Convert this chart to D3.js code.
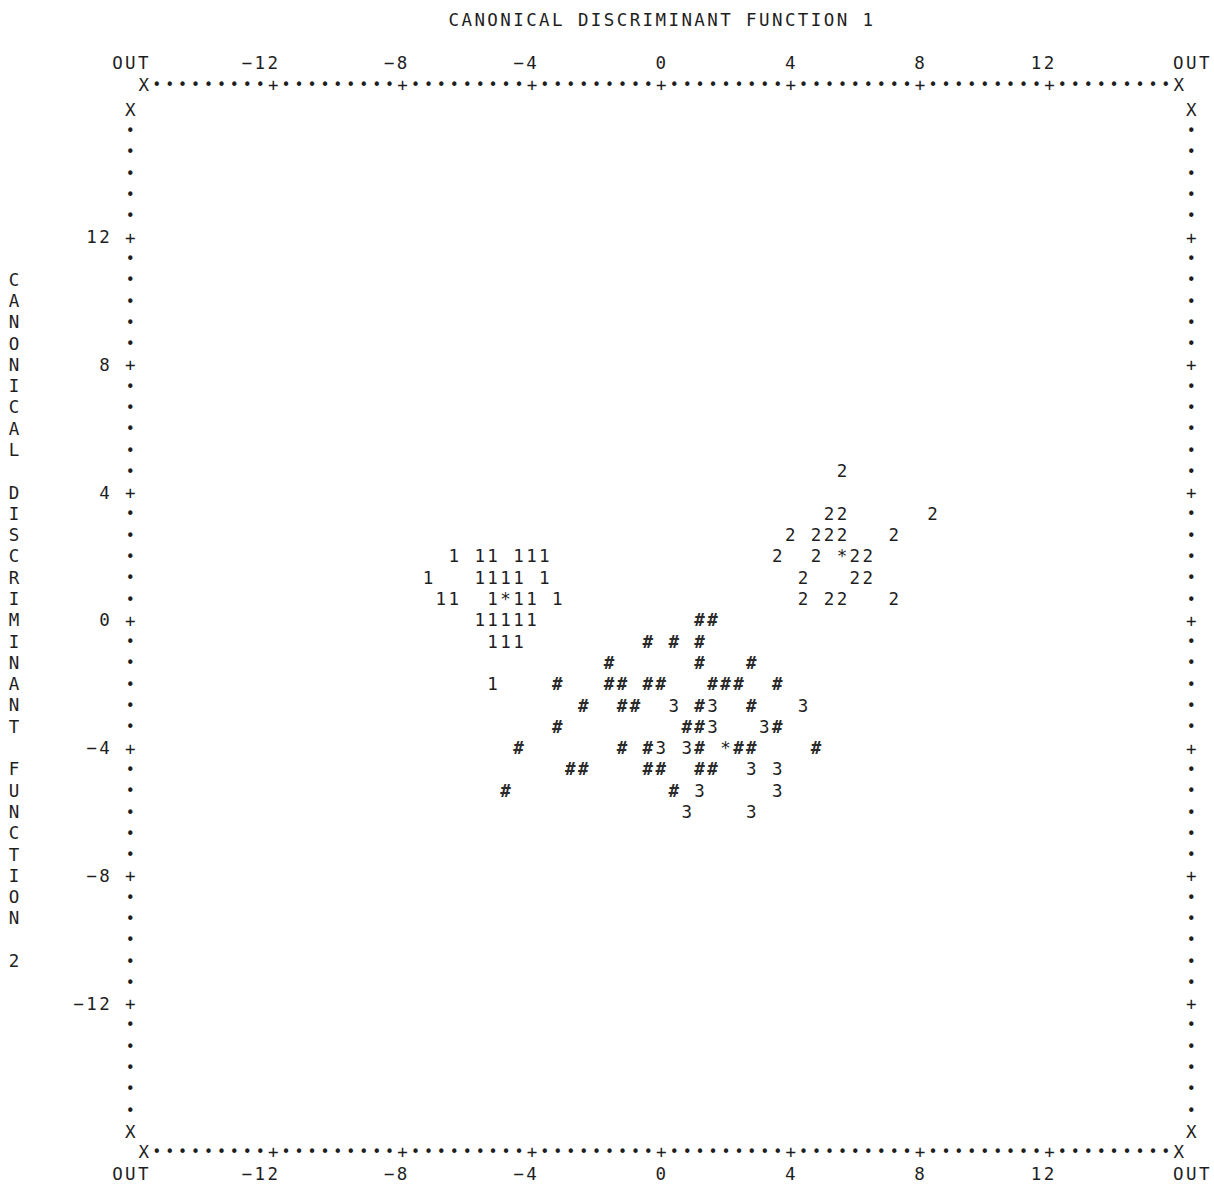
<!DOCTYPE html>
<html>
<head>
<meta charset="utf-8">
<script src="https://cdn.jsdelivr.net/npm/d3@7/dist/d3.min.js"></script>
<style>
  body { margin: 0; background: #fff; }
  text { font-family: "DejaVu Sans Mono", monospace; font-size: 17.5px; fill: #1e1e1e; }
  .hash { font-weight: bold; fill: #2a2a2a; }
  .dot { font-size: 15px; }
</style>
</head>
<body>
<svg id="canvas"></svg>
<script>
const WIDTH = 1214;
const HEIGHT = 1189;

// scores on (function 1, function 2)
const group1 = [
  [-6.4, 2.0], [-5.6, 2.0], [-5.2, 2.0], [-4.4, 2.0], [-4.0, 2.0], [-3.6, 2.0],
  [-7.2, 1.33], [-5.6, 1.33], [-5.2, 1.33], [-4.8, 1.33], [-4.4, 1.33], [-3.6, 1.33],
  [-6.8, 0.67], [-6.4, 0.67], [-5.2, 0.67], [-4.4, 0.67], [-4.0, 0.67], [-3.2, 0.67],
  [-5.6, 0], [-5.2, 0], [-4.8, 0], [-4.4, 0], [-4.0, 0],
  [-5.2, -0.67], [-4.8, -0.67], [-4.4, -0.67],
  [-5.2, -2.0],
];

const group2 = [
  [5.6, 4.67],
  [5.2, 3.33], [5.6, 3.33], [8.4, 3.33],
  [4.0, 2.67], [4.8, 2.67], [5.2, 2.67], [5.6, 2.67], [7.2, 2.67],
  [3.6, 2.0], [4.8, 2.0], [6.0, 2.0], [6.4, 2.0],
  [4.4, 1.33], [6.0, 1.33], [6.4, 1.33],
  [4.4, 0.67], [5.2, 0.67], [5.6, 0.67], [7.2, 0.67],
];

const group3 = [
  [0.4, -2.67], [1.6, -2.67], [4.4, -2.67],
  [1.6, -3.33], [3.2, -3.33],
  [0, -4.0], [0.8, -4.0],
  [2.8, -4.67], [3.6, -4.67],
  [1.2, -5.33], [3.6, -5.33],
  [0.8, -6.0], [2.8, -6.0],
];

const groupHash = [
  [1.2, 0], [1.6, 0],
  [-0.4, -0.67], [0.4, -0.67], [1.2, -0.67],
  [-1.6, -1.33], [1.2, -1.33], [2.8, -1.33],
  [-3.2, -2.0], [-1.6, -2.0], [-1.2, -2.0], [-0.4, -2.0], [0, -2.0], [1.6, -2.0], [2.0, -2.0], [2.4, -2.0], [3.6, -2.0],
  [-2.4, -2.67], [-1.2, -2.67], [-0.8, -2.67], [1.2, -2.67], [2.8, -2.67],
  [-3.2, -3.33], [0.8, -3.33], [1.2, -3.33], [3.6, -3.33],
  [-4.4, -4.0], [-1.2, -4.0], [-0.4, -4.0], [1.2, -4.0], [2.4, -4.0], [2.8, -4.0], [4.8, -4.0],
  [-2.8, -4.67], [-2.4, -4.67], [-0.4, -4.67], [0, -4.67], [1.2, -4.67], [1.6, -4.67],
  [-4.8, -5.33], [0.4, -5.33],
];

const centroids = [[-4.8, 0.67], [5.6, 2.0], [2.0, -4.0]];

const xLabels = [-12, -8, -4, 0, 4, 8, 12];
const yLabels = [12, 8, 4, 0, -4, -8, -12];
const xTitle = "CANONICAL DISCRIMINANT FUNCTION 1";
const yTitle = "CANONICAL DISCRIMINANT FUNCTION 2";

const canvas = d3.select("#canvas").attr("width", WIDTH).attr("height", HEIGHT);

const xScale = d3.scaleLinear().domain([-16, 16]).range([143.3, 1178.3]);
const yScale = d3.scaleLinear().domain([-16, 16]).range([1131, 109]);

// one printer column = 0.4 units, one printer line = 2/3 unit
const COL = (xScale(16) - xScale(-16)) / 80;
const ROW = (yScale(-16) - yScale(16)) / 48;

const topLine = yScale(16) - 24;
const bottomLine = yScale(-16) + 21;

const fmt = (v) => String(v).replace("-", "\u2212");

const putChar = (ch, x, y, cls) =>
  canvas.append("text")
    .attr("class", cls || null)
    .attr("x", x)
    .attr("y", y)
    .attr("dy", "0.36em")
    .attr("text-anchor", "middle")
    .text(ch);

// right aligned string, last char sits at xEnd
const putRight = (str, xEnd, y) => {
  str.split("").forEach((ch, i) => putChar(ch, xEnd - (str.length - 1 - i) * COL, y));
};
const putLeft = (str, xStart, y) => {
  str.split("").forEach((ch, i) => putChar(ch, xStart + i * COL, y));
};

const drawFrame = () => {
  const colTicks = d3.range(-40, 41).map((c) => c * 0.4);
  const colChar = (v) => {
    const c = Math.round(v / 0.4);
    if (Math.abs(c) === 40) return "X";
    return c % 10 === 0 ? "+" : "\u2022";
  };
  const rowTicks = d3.range(-24, 25).map((r) => (r * 2) / 3);
  const rowChar = (v) => {
    const r = Math.round(v * 1.5);
    if (Math.abs(r) === 24) return "X";
    return r % 6 === 0 ? "+" : "\u2022";
  };

  [topLine, bottomLine].forEach((y) => {
    const g = canvas.append("g")
      .attr("transform", "translate(0," + y + ")")
      .call(d3.axisBottom(xScale).tickValues(colTicks).tickFormat(colChar).tickSize(0).tickPadding(0));
    g.select(".domain").remove();
    g.selectAll("text")
      .attr("y", 0)
      .attr("dy", "0.36em")
      .attr("class", function () { return this.textContent === "\u2022" ? "dot" : null; });
  });

  [xScale(-16) - COL, xScale(16) + COL].forEach((x) => {
    const g = canvas.append("g")
      .attr("transform", "translate(" + x + ",0)")
      .call(d3.axisLeft(yScale).tickValues(rowTicks).tickFormat(rowChar).tickSize(0).tickPadding(0));
    g.select(".domain").remove();
    g.selectAll("text")
      .attr("x", 0)
      .attr("dy", "0.36em")
      .attr("text-anchor", "middle")
      .attr("class", function () { return this.textContent === "\u2022" ? "dot" : null; });
  });
};

const drawLabels = () => {
  const topY = topLine - 22;
  const botY = bottomLine + 22;
  [topY, botY].forEach((y) => {
    putRight("OUT", xScale(-16), y);
    putLeft("OUT", xScale(16), y);
    xLabels.forEach((v) => putRight(fmt(v), xScale(v), y));
  });

  yLabels.forEach((v) => putRight(fmt(v), xScale(-16) - 3 * COL, yScale(v)));

  putLeft(xTitle, xScale(0) - 16 * COL, 20);

  yTitle.split("").forEach((ch, i) => {
    if (ch !== " ") putChar(ch, xScale(-16) - 10 * COL, yScale(((16 - i) * 2) / 3));
  });
};

const drawPoints = (data, symbol, cls) => {
  canvas.append("g")
    .selectAll("text")
    .data(data)
    .enter()
    .append("text")
    .attr("class", cls || null)
    .attr("x", (d) => xScale(d[0]))
    .attr("y", (d) => yScale(d[1]))
    .attr("dy", "0.36em")
    .attr("text-anchor", "middle")
    .text(symbol);
};

drawFrame();
drawLabels();
drawPoints(group1, "1");
drawPoints(group2, "2");
drawPoints(group3, "3");
drawPoints(groupHash, "#", "hash");
drawPoints(centroids, "*");
</script>
</body>
</html>
